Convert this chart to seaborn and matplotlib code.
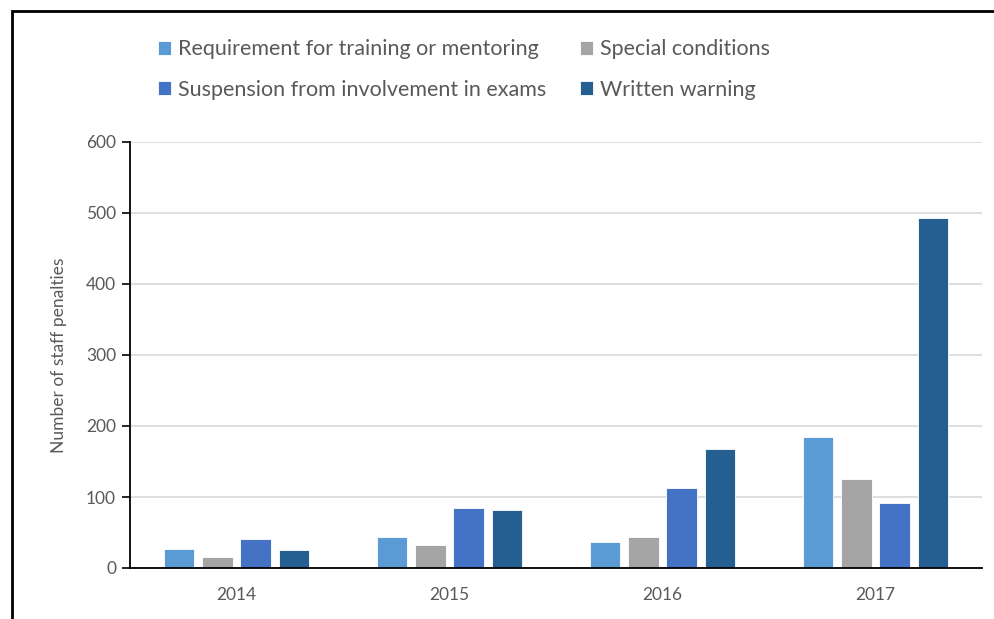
import matplotlib as mpl
import matplotlib.pyplot as plt
import seaborn as sns
import pandas as pd
import numpy as np

years = ["2014", "2015", "2016", "2017"]
series = ["Requirement for training or mentoring", "Special conditions",
          "Suspension from involvement in exams", "Written warning"]
training = [27, 43, 36, 185]
special = [16, 32, 44, 125]
suspension = [41, 84, 113, 92]
warning = [26, 81, 168, 493]
colors = ["#5B9BD5", "#A5A5A5", "#4472C4", "#255E91"]

rows = []
for name, vals in zip(series, [training, special, suspension, warning]):
    for yr, v in zip(years, vals):
        rows.append({"Year": yr, "Penalty": name, "Count": v})
df = pd.DataFrame(rows)

sns.set_style("white")
plt.rcParams['font.family'] = ['Lato', 'DejaVu Sans']
grey_txt = '#595959'

fig = plt.figure(figsize=(9.95, 6.19), dpi=100)
ax = fig.add_axes([130 / 995, 1 - 568 / 619, 852 / 995, 426 / 619])

sns.barplot(data=df, x="Year", y="Count", hue="Penalty", palette=colors,
            saturation=1, width=0.72, gap=0.2, edgecolor="white", linewidth=0.6,
            ax=ax, legend=True)

ax.set_ylim(0, 600)
ax.set_yticks(np.arange(0, 601, 100))
ax.yaxis.grid(True, color='#D9D9D9', linewidth=1.2)
ax.set_axisbelow(True)
for s in ['top', 'right']:
    ax.spines[s].set_visible(False)
for s in ['left', 'bottom']:
    ax.spines[s].set_color('black')
    ax.spines[s].set_linewidth(1.3)
ax.tick_params(axis='y', left=True, length=6, width=1.2, color='black',
               labelsize=12.5, labelcolor=grey_txt, pad=4)
ax.tick_params(axis='x', bottom=False, labelsize=12.5, labelcolor=grey_txt, pad=10)
ax.set_xlabel("")
ax.set_ylabel("Number of staff penalties", fontsize=12.5, color=grey_txt, labelpad=14)

# legend filled row by row, like the original
handles, labels = ax.get_legend_handles_labels()
order = [0, 2, 1, 3]
ax.legend([handles[i] for i in order], [labels[i] for i in order], ncol=2,
          loc='upper left', bbox_to_anchor=(139 / 995, 1 - 20 / 619),
          bbox_transform=fig.transFigure, frameon=False, fontsize=15.5,
          labelcolor=grey_txt, handlelength=0.6, handleheight=0.6, handletextpad=0.3,
          columnspacing=1.6, labelspacing=0.95)

# outer frame of the chart area
fig.patches.append(mpl.patches.Rectangle((12 / 995, -0.1), 1.2, 1 - 11 / 619 + 0.1,
                                         transform=fig.transFigure, fill=False,
                                         edgecolor='black', linewidth=2, zorder=10))

plt.savefig("out.png", dpi=100)
plt.close()
